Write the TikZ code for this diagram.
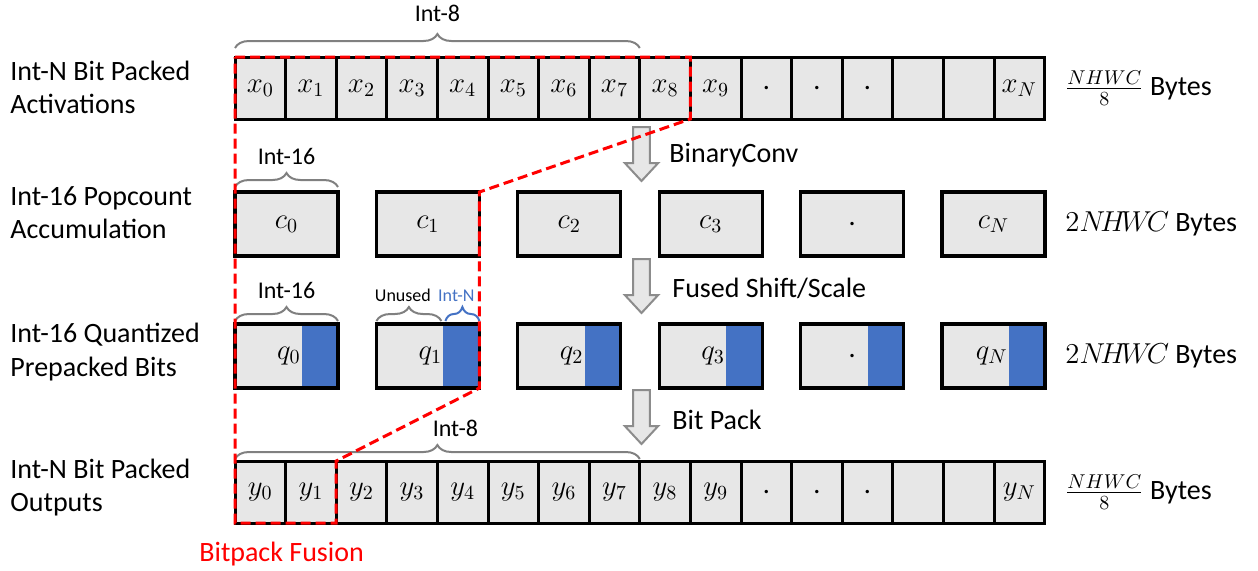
\documentclass[tikz,border=0pt]{standalone}
\usepackage{amsmath,amssymb}
\usepackage{fontspec}
\setmainfont{Carlito}
\usetikzlibrary{positioning,decorations.pathreplacing,calc}
\definecolor{cellgray}{RGB}{231,231,231}
\definecolor{intblue}{HTML}{4472C4}
\definecolor{bracegray}{RGB}{128,128,128}
\definecolor{fusionred}{RGB}{255,0,0}
\definecolor{arrowgray}{RGB}{140,140,140}

\tikzset{
  pics/steparrow/.style={code={
    \draw[stepdown] (-8.3,0) -- (8.3,0) -- (8.3,36) -- (16.7,36) -- (0,54)
                    -- (-16.7,36) -- (-8.3,36) -- cycle;
  }},
}

\begin{document}
\begin{tikzpicture}[
  x=0.5pt,y=-0.5pt,
  font=\fontsize{14}{16.8}\selectfont,
  bitcell/.style={draw=black,line width=1.5pt,fill=cellgray,minimum width=25.3pt,
                  minimum height=31pt,inner sep=0pt,outer sep=0pt},
  wordcell/.style={draw=black,line width=1.6pt,fill=cellgray,minimum width=51.5pt,
                   minimum height=32pt,inner sep=0pt,outer sep=0pt},
  qcell/.style={wordcell,path picture={
                  \fill[intblue] ([xshift=-18pt]path picture bounding box.north east)
                                 rectangle (path picture bounding box.south east);}},
  qtext/.style={anchor=east,inner sep=0.5pt},
  rowlabel/.style={anchor=west,align=left,inner sep=0pt},
  sizelabel/.style={right=10pt of #1,inner sep=0pt},
  oplabel/.style={anchor=west,inner sep=0pt},
  widthbrace/.style={draw=bracegray,line width=1pt,decorate,decoration={brace,amplitude=7pt}},
  widthlabel/.style={font=\fontsize{12}{14}\selectfont,inner sep=0pt},
  smalllabel/.style={font=\fontsize{9}{11}\selectfont,inner sep=0pt},
  fusion/.style={draw=fusionred,line width=1.5pt,dash pattern=on 5pt off 2.5pt},
  stepdown/.style={draw=arrowgray,fill=cellgray,line width=1pt},
]
  \useasboundingbox (0,0) rectangle (1258,570);

  % Row labels
  \node[rowlabel] (act)   at (10,87.5)  {Int-N Bit Packed\\Activations};
  \node[rowlabel] (pop)   at (10,212.5) {Int-16 Popcount\\Accumulation};
  \node[rowlabel] (quant) at (10,352)   {Int-16 Quantized\\Prepacked Bits};
  \node[rowlabel] (outs)  at (10,487.5) {Int-N Bit Packed\\Outputs};

  % Packed activations
  \node[bitcell,anchor=west] (x0) at (235,88) {$x_0$};
  \node[bitcell,right=0pt of x0] (x1) {$x_1$};
  \node[bitcell,right=0pt of x1] (x2) {$x_2$};
  \node[bitcell,right=0pt of x2] (x3) {$x_3$};
  \node[bitcell,right=0pt of x3] (x4) {$x_4$};
  \node[bitcell,right=0pt of x4] (x5) {$x_5$};
  \node[bitcell,right=0pt of x5] (x6) {$x_6$};
  \node[bitcell,right=0pt of x6] (x7) {$x_7$};
  \node[bitcell,right=0pt of x7] (x8) {$x_8$};
  \node[bitcell,right=0pt of x8] (x9) {$x_9$};
  \node[bitcell,right=0pt of x9] (xd1) {.};
  \node[bitcell,right=0pt of xd1] (xd2) {.};
  \node[bitcell,right=0pt of xd2] (xd3) {.};
  \node[bitcell,right=0pt of xd3] (xe1) {};
  \node[bitcell,right=0pt of xe1] (xe2) {};
  \node[bitcell,right=0pt of xe2] (xN) {$x_N$};
  \node[sizelabel=xN] (xsize) {$\frac{NHWC}{8}$ Bytes};

  % Popcount accumulators
  \node[wordcell,anchor=west] (c0) at (235,224) {$c_0$};
  \node[wordcell,right=19.2pt of c0] (c1) {$c_1$};
  \node[wordcell,right=19.2pt of c1] (c2) {$c_2$};
  \node[wordcell,right=19.2pt of c2] (c3) {$c_3$};
  \node[wordcell,right=19.2pt of c3] (cd) {.};
  \node[wordcell,right=19.2pt of cd] (cN) {$c_N$};
  \node[sizelabel=cN] (csize) {$2N\!H\!W\!C$ Bytes};

  % Quantized prepacked bits
  \node[qcell,anchor=west] (q0) at (235,356) {};
  \node[qcell,right=19.2pt of q0] (q1) {};
  \node[qcell,right=19.2pt of q1] (q2) {};
  \node[qcell,right=19.2pt of q2] (q3) {};
  \node[qcell,right=19.2pt of q3] (qd) {.};
  \node[qcell,right=19.2pt of qd] (qN) {};
  \node[qtext] (q0t) at ([xshift=-18pt]q0.east) {$q_0$};
  \node[qtext] (q1t) at ([xshift=-18pt]q1.east) {$q_1$};
  \node[qtext] (q2t) at ([xshift=-18pt]q2.east) {$q_2$};
  \node[qtext] (q3t) at ([xshift=-18pt]q3.east) {$q_3$};
  \node[qtext] (qNt) at ([xshift=-18pt]qN.east) {$q_N$};
  \node[sizelabel=qN] (qsize) {$2N\!H\!W\!C$ Bytes};

  % Packed outputs
  \node[bitcell,anchor=west] (y0) at (235,492) {$y_0$};
  \node[bitcell,right=0pt of y0] (y1) {$y_1$};
  \node[bitcell,right=0pt of y1] (y2) {$y_2$};
  \node[bitcell,right=0pt of y2] (y3) {$y_3$};
  \node[bitcell,right=0pt of y3] (y4) {$y_4$};
  \node[bitcell,right=0pt of y4] (y5) {$y_5$};
  \node[bitcell,right=0pt of y5] (y6) {$y_6$};
  \node[bitcell,right=0pt of y6] (y7) {$y_7$};
  \node[bitcell,right=0pt of y7] (y8) {$y_8$};
  \node[bitcell,right=0pt of y8] (y9) {$y_9$};
  \node[bitcell,right=0pt of y9] (yd1) {.};
  \node[bitcell,right=0pt of yd1] (yd2) {.};
  \node[bitcell,right=0pt of yd2] (yd3) {.};
  \node[bitcell,right=0pt of yd3] (ye1) {};
  \node[bitcell,right=0pt of ye1] (ye2) {};
  \node[bitcell,right=0pt of ye2] (yN) {$y_N$};
  \node[sizelabel=yN] (ysize) {$\frac{NHWC}{8}$ Bytes};

  % Widths
  \draw[widthbrace] ([yshift=4.5pt]x0.north west) -- ([yshift=4.5pt]x7.north east)
    node[widthlabel,midway,above=12.5pt] (w8in) {Int-8};
  \draw[widthbrace] ([yshift=2.5pt]c0.north west) -- ([yshift=2.5pt]c0.north east)
    node[widthlabel,midway,above=10.5pt] (w16c) {Int-16};
  \draw[widthbrace] ([yshift=1.5pt]q0.north west) -- ([yshift=1.5pt]q0.north east)
    node[widthlabel,midway,above=10.5pt] (w16q) {Int-16};
  \draw[widthbrace] ([yshift=1.5pt]q1.north west) -- ([yshift=1.5pt,xshift=-19pt]q1.north east)
    node[smalllabel,midway,above=9pt,xshift=-3pt] (unused) {Unused};
  \draw[widthbrace,draw=intblue] ([yshift=1.5pt,xshift=-17pt]q1.north east) -- ([yshift=1.5pt]q1.north east)
    node[smalllabel,midway,above=9pt,xshift=-3pt,text=intblue] (intn) {Int-N};
  \draw[widthbrace] ([yshift=1pt]y0.north west) -- ([yshift=1pt]y7.north east)
    node[widthlabel,midway,above=10.5pt,xshift=9pt] (w8out) {Int-8};

  % Operations
  \pic at (641.5,127) {steparrow};
  \pic at (641.5,259) {steparrow};
  \pic at (641.5,390) {steparrow};
  \node[oplabel] (conv)  at (669,155) {BinaryConv};
  \node[oplabel] (scale) at (672,288) {Fused Shift/Scale};
  \node[oplabel] (pack)  at (672,420) {Bit Pack};

  % Fusion region
  \draw[fusion] (x0.north west) -- (x8.north east) -- (x8.south east) -- (c1.north east)
    -- (q1.south east) -- (y1.north east) -- (y1.south east) -- (y0.south west) -- cycle;
  \node[text=fusionred,inner sep=0pt,below=9.5pt of y0.south east,xshift=-2pt] (fuse) {Bitpack Fusion};
\end{tikzpicture}
\end{document}
